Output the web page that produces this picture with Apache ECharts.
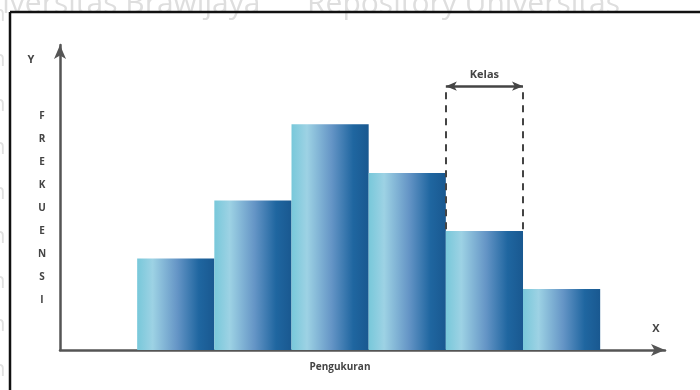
<!DOCTYPE html>
<html>
<head>
<meta charset="utf-8">
<script src="https://cdn.jsdelivr.net/npm/echarts@6/dist/echarts.min.js"></script>
<style>
  html, body { margin: 0; padding: 0; background: #fff; }
  #chart { width: 700px; height: 390px; }
</style>
</head>
<body>
<div id="chart"></div>
<script>
  // kelas (interval) centres along the measurement axis, and their frequencies
  var kelasCenters = [1.5, 2.5, 3.5, 4.5, 5.5, 6.5];
  var frekuensi = [3.0, 4.9, 7.4, 5.8, 3.9, 2.0];
  // the highlighted class ("Kelas"), its edges on the x scale
  var kelasEdges = [5, 6];
  var kelasTop = 8.65;
  var hurufY = ['F', 'R', 'E', 'K', 'U', 'E', 'N', 'S', 'I'];

  var chart = echarts.init(document.getElementById('chart'), null, { renderer: 'canvas' });

  var barColor = new echarts.graphic.LinearGradient(0, 0, 1, 0, [
    { offset: 0, color: '#78c8da' },
    { offset: 0.2, color: '#9dd2e4' },
    { offset: 0.52, color: '#6595c6' },
    { offset: 0.8, color: '#1f66a0' },
    { offset: 1, color: '#195890' }
  ]);

  var dashed = { color: '#444', width: 2, type: [7, 6] };
  var fontTxt = 'Open Sans, DejaVu Sans, sans-serif';

  // faint watermark fragments at the left edge
  var leftMarks = [];
  [15, 60, 105, 148, 193, 237, 282, 325, 370].forEach(function (y) {
    leftMarks.push({
      type: 'text', z: 0, style: {
        text: 'n', x: -8, y: y, verticalAlign: 'middle',
        font: '22px ' + fontTxt, fill: '#e0e0e0'
      }
    });
  });

  var option = {
    backgroundColor: '#fff',
    animation: false,
    grid: { left: 60, right: 35, top: 45, bottom: 40 },
    xAxis: {
      type: 'value',
      min: 0,
      max: 7.84,
      axisLine: {
        show: true, onZero: false,
        lineStyle: { color: '#555', width: 2.5 },
        symbol: ['none', 'arrow'], symbolSize: [9, 14]
      },
      axisTick: { show: false },
      axisLabel: { show: false },
      splitLine: { show: false }
    },
    yAxis: {
      type: 'value',
      min: 0,
      max: 10,
      axisLine: {
        show: true,
        lineStyle: { color: '#555', width: 2.5 },
        symbol: ['none', 'arrow'], symbolSize: [9, 14]
      },
      axisTick: { show: false },
      axisLabel: { show: false },
      splitLine: { show: false }
    },
    series: [{
      type: 'bar',
      barWidth: '100%',
      data: kelasCenters.map(function (c, i) { return [c, frekuensi[i]]; }),
      itemStyle: { color: barColor },
      markLine: {
        silent: true,
        symbol: 'none',
        label: { show: false },
        data: [
          [
            { coord: [kelasEdges[0], kelasTop], symbol: 'arrow', symbolSize: [7, 11] },
            {
              coord: [kelasEdges[1], kelasTop], symbol: 'arrow', symbolSize: [7, 11],
              lineStyle: { color: '#444', width: 2.5, type: 'solid' },
              label: {
                show: true, position: 'middle', formatter: 'Kelas', distance: 6,
                color: '#444', fontWeight: 'bold', fontSize: 11, fontFamily: fontTxt
              }
            }
          ],
          [
            { coord: [kelasEdges[0], kelasTop - 0.2] },
            { coord: [kelasEdges[0], frekuensi[4]], lineStyle: dashed }
          ],
          [
            { coord: [kelasEdges[1], kelasTop - 0.2] },
            { coord: [kelasEdges[1], frekuensi[4]], lineStyle: dashed }
          ]
        ]
      }
    }],
    graphic: leftMarks.concat([
      {
        type: 'text', z: 0, style: {
          text: 'Universitas Brawijaya      Repository Universitas', x: -38, y: 19,
          verticalAlign: 'bottom', font: '30px ' + fontTxt, fill: '#dedede'
        }
      },
      { type: 'line', z: 5, shape: { x1: 10, y1: 12, x2: 700, y2: 12 }, style: { stroke: '#111', lineWidth: 2.5 } },
      { type: 'line', z: 5, shape: { x1: 10, y1: 12, x2: 10, y2: 390 }, style: { stroke: '#111', lineWidth: 2.5 } },
      {
        type: 'text', style: {
          text: 'Y', x: 31, y: 60, align: 'center', verticalAlign: 'middle',
          font: 'bold 11px ' + fontTxt, fill: '#444'
        }
      },
      {
        type: 'text', style: {
          text: 'X', x: 656, y: 329, align: 'center', verticalAlign: 'middle',
          font: 'bold 11px ' + fontTxt, fill: '#444'
        }
      },
      {
        type: 'text', style: {
          text: hurufY.join('\n'), x: 42, y: 208, align: 'center', verticalAlign: 'middle',
          lineHeight: 23, font: 'bold 10px ' + fontTxt, fill: '#444'
        }
      },
      {
        type: 'text', style: {
          text: 'Pengukuran', x: 340, y: 367, align: 'center', verticalAlign: 'middle',
          font: 'bold 10px ' + fontTxt, fill: '#444'
        }
      }
    ])
  };

  chart.setOption(option);
</script>
</body>
</html>
